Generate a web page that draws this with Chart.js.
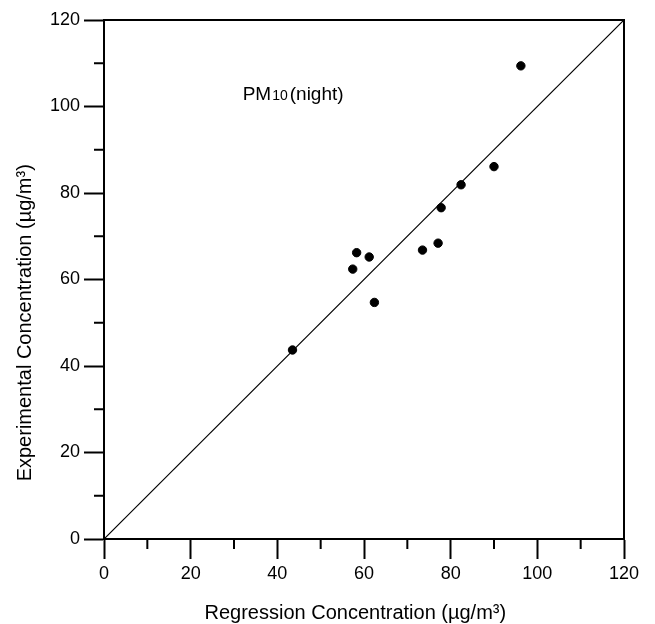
<!DOCTYPE html>
<html>
<head>
<meta charset="utf-8">
<script src="https://cdn.jsdelivr.net/npm/chart.js@4"></script>
<style>
  body { margin: 0; background: #fff; }
  canvas { display: block; }
</style>
</head>
<body>
<canvas id="myChart" width="655" height="624"></canvas>
<script>

// values
const regressionConc = [43.5, 57.4, 58.3, 61.2, 62.4, 73.5, 77.1, 77.8, 82.4, 90.0, 96.2];
const experimentalConc = [43.7, 62.4, 66.2, 65.2, 54.7, 66.8, 68.4, 76.6, 81.9, 86.1, 109.4];
const lineEnds = [0, 120];
const majorTicks = [0, 20, 40, 60, 80, 100, 120];
const minorTicks = [10, 30, 50, 70, 90, 110];

const FONT = '"Liberation Sans", Arial, Helvetica, sans-serif';

function getPoints(xs, ys)
{
    let pts = [];
    for(let i = 0; i < xs.length; i++)
    {
        pts.push({x: xs[i], y: ys[i]});
    }
    return pts;
}

// box, minor ticks, label and axis titles
const extras = {
    id: 'extras',
    afterDraw(chart) {
        const ctx = chart.ctx;
        const a = chart.chartArea;
        const sx = chart.scales.x;
        const sy = chart.scales.y;
        ctx.save();
        ctx.strokeStyle = '#000';
        ctx.lineWidth = 2;
        ctx.beginPath();
        ctx.moveTo(a.left, a.top);
        ctx.lineTo(a.right, a.top);
        ctx.lineTo(a.right, a.bottom);
        ctx.stroke();

        ctx.beginPath();
        minorTicks.forEach(v => {
            let px = sx.getPixelForValue(v);
            ctx.moveTo(px, a.bottom);
            ctx.lineTo(px, a.bottom + 10);
            let py = sy.getPixelForValue(v);
            ctx.moveTo(a.left - 10, py);
            ctx.lineTo(a.left, py);
        });
        ctx.stroke();

        // PM10(night)
        ctx.fillStyle = '#000';
        ctx.textBaseline = 'alphabetic';
        ctx.textAlign = 'left';
        let tx = sx.getPixelForValue(32);
        let ty = sy.getPixelForValue(101.5);
        ctx.font = '19px ' + FONT;
        ctx.fillText('PM', tx, ty);
        tx += ctx.measureText('PM').width + 1;
        ctx.font = '14px ' + FONT;
        ctx.fillText('10', tx, ty);
        tx += ctx.measureText('10').width + 2;
        ctx.font = '19px ' + FONT;
        ctx.fillText('(night)', tx, ty);

        // x title
        ctx.textAlign = 'center';
        ctx.textBaseline = 'middle';
        ctx.font = '20px ' + FONT;
        ctx.fillText('Regression Concentration (\u00b5g/m\u00b3)', sx.getPixelForValue(58), a.bottom + 74);

        // y title
        ctx.translate(25, sy.getPixelForValue(50));
        ctx.rotate(-Math.PI / 2);
        ctx.fillText('Experimental Concentration (\u00b5g/m\u00b3)', 0, 0);
        ctx.restore();
    }
};

function renderChart()
{
    const ctx = document.getElementById('myChart');

    new Chart(ctx, {
        type: 'scatter',
        data: {
            datasets: [{
                label: 'PM10 (night)',
                data: getPoints(regressionConc, experimentalConc),
                backgroundColor: '#000',
                borderColor: '#000',
                pointRadius: 4.2,
                pointHoverRadius: 4.2
            }, {
                type: 'line',
                label: '1:1',
                data: getPoints(lineEnds, lineEnds),
                borderColor: '#000',
                borderWidth: 1.2,
                pointRadius: 0,
                fill: false
            }]
        },
        options: {
            responsive: false,
            animation: false,
            devicePixelRatio: 1,
            layout: { padding: { top: 20, right: 31, left: 0, bottom: 0 } },
            plugins: {
                legend: { display: false },
                tooltip: { enabled: false }
            },
            scales: {
                x: {
                    type: 'linear',
                    min: 0,
                    max: 120,
                    afterFit: (s) => { s.height = 85; },
                    afterBuildTicks: (s) => { s.ticks = majorTicks.map(v => ({value: v})); },
                    ticks: {
                        color: '#000',
                        padding: 4,
                        maxRotation: 0,
                        font: { family: FONT, size: 18 }
                    },
                    grid: {
                        drawOnChartArea: false,
                        tickLength: 20,
                        tickWidth: 2,
                        tickColor: '#000'
                    },
                    border: { color: '#000', width: 2 }
                },
                y: {
                    type: 'linear',
                    min: 0,
                    max: 120,
                    afterFit: (s) => { s.width = 104; },
                    afterBuildTicks: (s) => { s.ticks = majorTicks.map(v => ({value: v})); },
                    ticks: {
                        color: '#000',
                        padding: 4,
                        font: { family: FONT, size: 18 }
                    },
                    grid: {
                        drawOnChartArea: false,
                        tickLength: 20,
                        tickWidth: 2,
                        tickColor: '#000'
                    },
                    border: { color: '#000', width: 2 }
                }
            }
        },
        plugins: [extras]
    });
}

renderChart();
</script>
</body>
</html>
